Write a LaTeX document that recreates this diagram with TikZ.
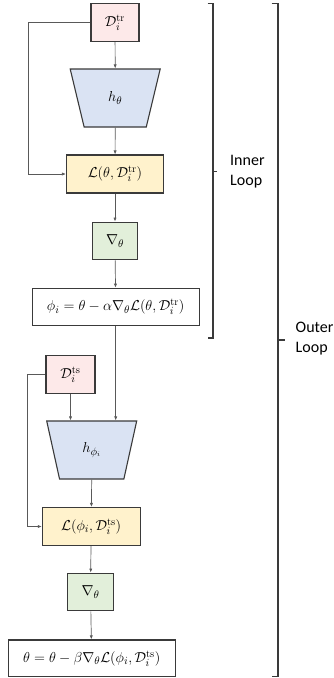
\documentclass[tikz,border=0pt]{standalone}
\usepackage{fontspec}
\newfontfamily\labelfont{Carlito}
\usetikzlibrary{shapes.geometric,arrows.meta}
\definecolor{pinkfill}{HTML}{FDE9E9}
\definecolor{bluefill}{HTML}{DAE3F3}
\definecolor{yellowfill}{HTML}{FFF2CC}
\definecolor{greenfill}{HTML}{E2EFDA}
\definecolor{edge}{HTML}{3A3A3A}
\tikzset{
  box/.style={draw=edge, line width=1.1pt, inner sep=0pt, font=\fontsize{15}{18}\selectfont},
  databox/.style={box, fill=pinkfill, minimum width=48pt, minimum height=38pt},
  lossbox/.style={box, fill=yellowfill, minimum width=97pt, minimum height=38pt},
  gradbox/.style={box, fill=greenfill, minimum width=45.5pt, minimum height=37.7pt},
  updbox/.style={box, fill=white, minimum width=166.7pt, minimum height=37.5pt},
  netbox/.style={box, fill=bluefill, trapezium, shape border rotate=180,
    trapezium left angle=76, trapezium right angle=76, trapezium stretches=true,
    minimum width=90pt, minimum height=58pt},
  arr/.style={-{Latex[length=4pt,width=3.2pt]}, line width=0.7pt, draw=black!65},
  brace/.style={draw=edge, line width=1.2pt},
  lbl/.style={font=\labelfont\fontsize{16}{20}\selectfont, align=left, anchor=west, inner sep=0pt}
}
\begin{document}
\begin{tikzpicture}[x=1pt,y=-1pt]
\useasboundingbox (0,0) rectangle (334,678);
\node[databox] (Dtr) at (115,22.5) {$\mathcal{D}_i^{\mathrm{tr}}$};
\node[netbox] (htheta) at (115.2,98) {$h_\theta$};
\node[lossbox] (L1) at (115,174) {$\mathcal{L}(\theta,\mathcal{D}_i^{\mathrm{tr}})$};
\node[gradbox] (g1) at (115,241) {$\nabla_\theta$};
\node[updbox] (phi) at (115.7,307) {$\phi_i=\theta-\alpha\nabla_\theta\mathcal{L}(\theta,\mathcal{D}_i^{\mathrm{tr}})$};
\node[databox, minimum width=49pt] (Dts) at (70.5,374.5) {$\mathcal{D}_i^{\mathrm{ts}}$};
\node[netbox] (hphi) at (91.7,450) {$h_{\phi_i}$};
\node[lossbox, minimum width=97.7pt] (L2) at (91.2,526.5) {$\mathcal{L}(\phi_i,\mathcal{D}_i^{\mathrm{ts}})$};
\node[gradbox] (g2) at (90.5,592) {$\nabla_\theta$};
\node[updbox, minimum height=36.7pt] (th) at (91.7,658.3) {$\theta=\theta-\beta\nabla_\theta\mathcal{L}(\phi_i,\mathcal{D}_i^{\mathrm{ts}})$};
\coordinate (c1) at (28.3,22.5);
\coordinate (c2) at (27.3,374.5);
\draw[arr] (Dtr) -- (htheta.north);
\draw[arr] (Dtr.west) -- (c1) |- (L1.west);
\draw[arr] (htheta.south) -- (L1);
\draw[arr] (L1) -- (g1);
\draw[arr] (g1) -- (phi);
\draw[arr] (phi.south) -- (phi.south |- hphi.north);
\draw[arr] (Dts.south) -- (Dts.south |- hphi.north);
\draw[arr] (Dts.west) -- (c2) |- (L2.west);
\draw[arr] (hphi.south) -- (L2);
\draw[arr] (L2) -- (g2);
\draw[arr] (g2) -- (th);
\coordinate (ib1) at (207.7,3.3);
\coordinate (ib2) at (213,3.3);
\coordinate (ib3) at (213,338);
\coordinate (ib4) at (207.7,338);
\coordinate (ibm) at (213,171.7);
\coordinate (ibt) at (217,171.7);
\draw[brace] (ib1) -- (ib2) -- (ib3) -- (ib4);
\draw[brace] (ibm) -- (ibt);
\coordinate (ob1) at (271.7,3.3);
\coordinate (ob2) at (278,3.3);
\coordinate (ob3) at (278,676.5);
\coordinate (ob4) at (271.7,676.5);
\coordinate (obm) at (278,340);
\coordinate (obt) at (285,340);
\draw[brace] (ob1) -- (ob2) -- (ob3) -- (ob4);
\draw[brace] (obm) -- (obt);
\node[lbl] (inner) at (230,172) {Inner\\Loop};
\node[lbl] (outer) at (295.5,339) {Outer\\Loop};
\end{tikzpicture}
\end{document}
